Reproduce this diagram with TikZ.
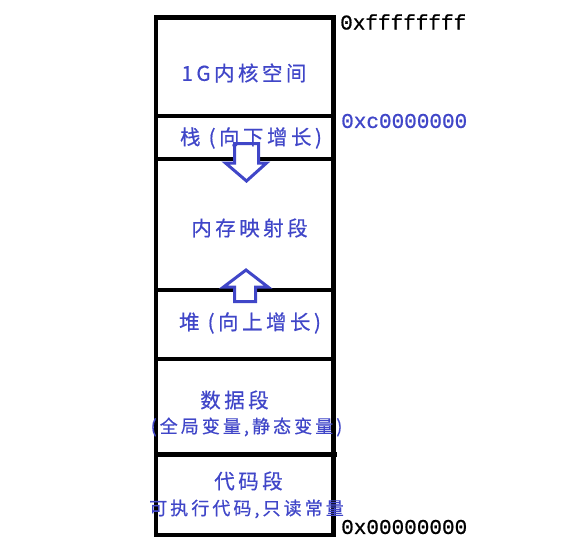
\documentclass[tikz,border=0pt]{standalone}
\usepackage{fontspec}
\newfontfamily\cjk[LetterSpace=17,FakeBold=0.6]{Noto Sans CJK SC}
\newfontfamily\addrfont[FakeBold=0.8]{Liberation Mono}
\definecolor{segblue}{RGB}{64,70,200}
\tikzset{
  segline/.style={line width=4.5pt},
  seglabel/.style={text=segblue, inner sep=0pt, font=\cjk\fontsize{20.5}{20.5}\selectfont},
  segnote/.style={text=segblue, inner sep=0pt, font=\cjk\fontsize{18}{18}\selectfont},
  addr/.style={anchor=west, inner sep=0pt, font=\addrfont\fontsize{21}{21}\selectfont},
  growarrow/.style={draw=segblue, fill=white, line width=3pt, line join=miter}
}
\begin{document}
\begin{tikzpicture}[x=1pt,y=-1pt]
                \useasboundingbox (0,0) rectangle (569,551);
                
                % Drawing the outer box
                \draw [segline] (156,17.5) rectangle (333.5,535);%
                
                % Drawing the segment borders
                \draw [segline] (156,116) -- (333.5,116);%
                \draw [segline] (156,159) -- (333.5,159);%
                \draw [segline] (156,290) -- (333.5,290);%
                \draw [segline] (156,359) -- (333.5,359);%
                \draw [segline] (158,454.5) -- (337,454.5);%
                
                % Drawing arrow stack down
                \draw [growarrow] (234.5,143.5) -- (258.5,143.5) -- (258.5,163) -- (266.5,163)
                      -- (246.5,181) -- (225.5,163) -- (234.5,163) -- cycle;%
                
                % Drawing arrow heap up
                \draw [growarrow] (234.5,301.5) -- (255.5,301.5) -- (255.5,287) -- (268,287)
                      -- (246,270) -- (223.5,287) -- (234.5,287) -- cycle;%
                
                % Marking segments
                \node [seglabel] (kernel) at (244,73) {1G内核空间};%
                \node [seglabel] (stack) at (251,138) {栈 (向下增长)};%
                \node [seglabel] (mmap) at (249.5,228) {内存映射段};%
                \node [seglabel] (heap) at (250,323) {堆 (向上增长)};%
                \node [seglabel] (data) at (234.5,400) {数据段};%
                \node [segnote] (datanote) at (246.5,427) {(全局变量,静态变量)};%
                \node [seglabel] (code) at (248.5,481) {代码段};%
                \node [segnote] (codenote) at (246.5,509) {可执行代码,只读常量};%
                
                % Marking addresses
                \node [addr] (addrtop) at (340,22) {0xffffffff};%
                \node [addr, text=segblue] (addrkernel) at (341,121) {0xc0000000};%
                \node [addr] (addrzero) at (341,527) {0x00000000};%
\end{tikzpicture}
\end{document}
